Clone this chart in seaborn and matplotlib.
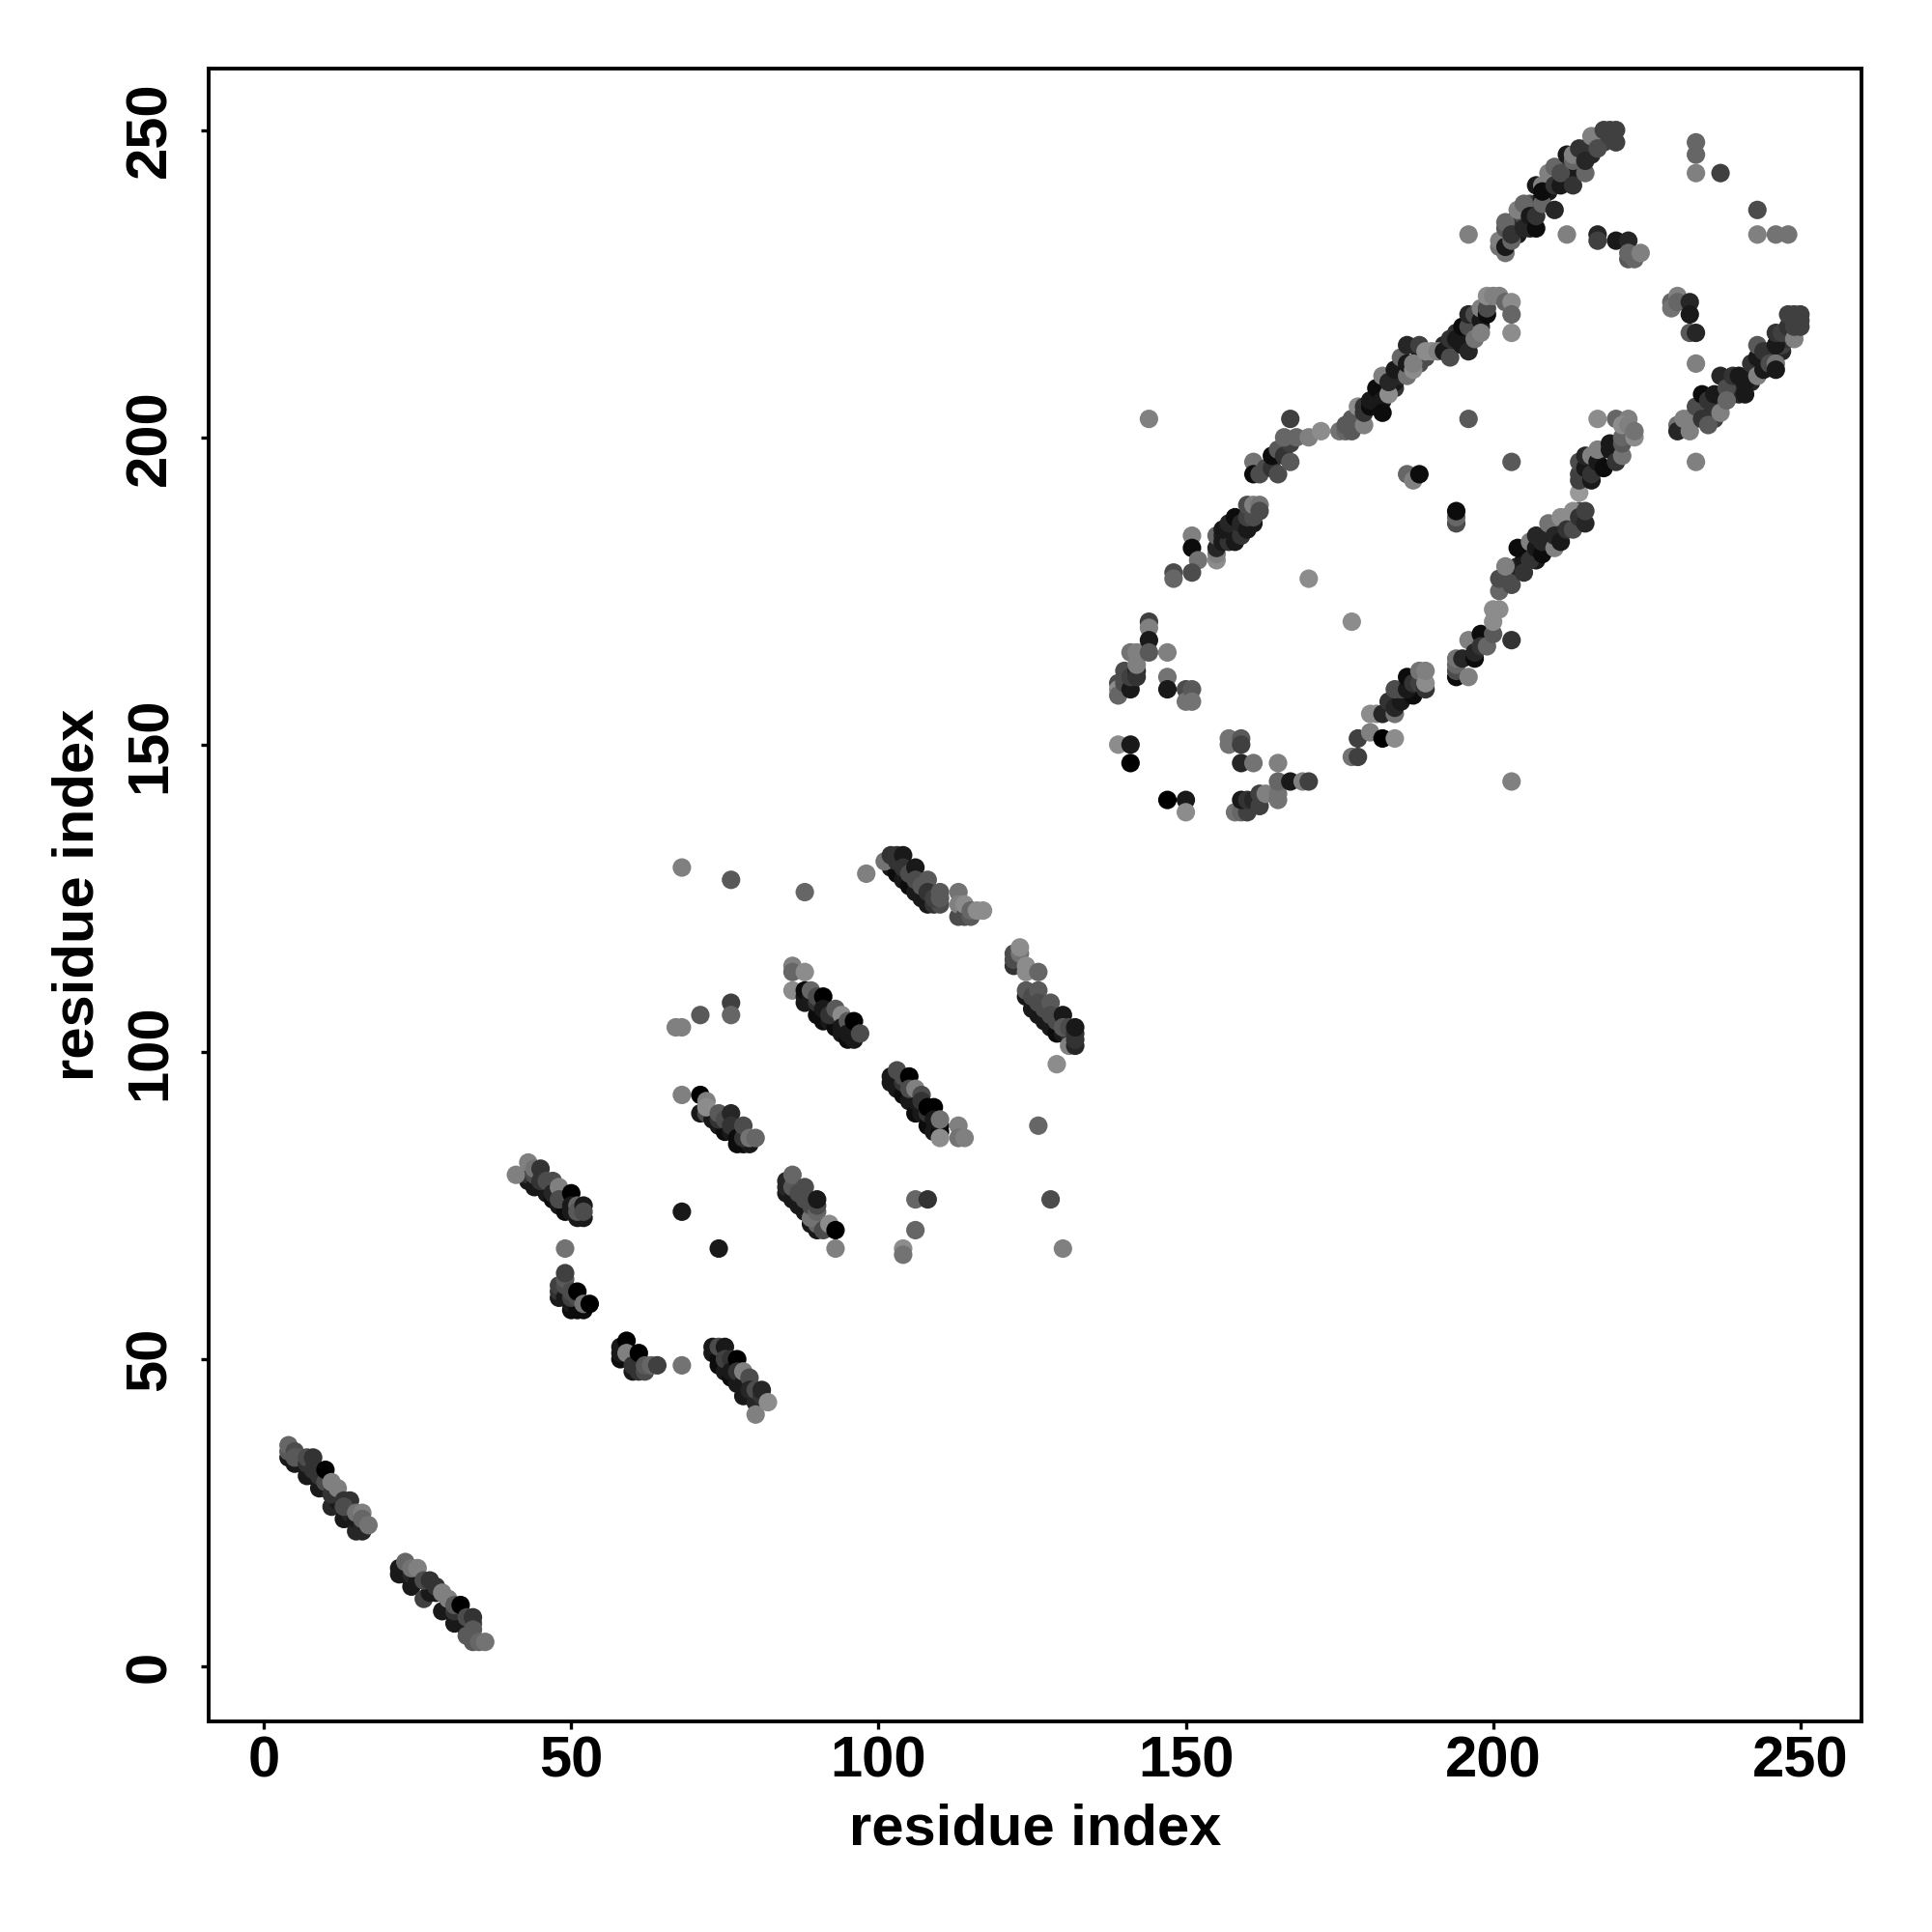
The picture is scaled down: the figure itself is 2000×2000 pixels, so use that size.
import matplotlib
matplotlib.use("Agg")
import matplotlib.pyplot as plt
import pandas as pd
import seaborn as sns

# contacts: (residue x, residue y, grey level 0=black)
strand_a = [(4,34,.1),(4,35,.35),(5,33,.1),(6,33,.1),(7,31,.1),(8,31,.1),(9,29,.1),(10,29,.1),(11,26,.15),(12,27,.1),
            (13,24,.1),(14,24,.1),(15,22,.15),(16,22,.15),(14,25,.15),(15,24,.1),(16,23,.15),
            (4,36,.4),(5,35,.3),(5,34,.35),(6,34,.35),(7,33,.2),(7,34,.3),(8,32,.2),(8,34,.2),(9,31,.2),(10,30,.3),(10,32,0),
            (11,28,.2),(11,30,.5),(12,29,.5),(13,27,.2),(14,27,.2),(13,26,.3),(15,25,.45),(16,25,.5),(16,24,.4),(17,23,.45)]
strand_b = [(22,15,.1),(22,16,.1),(23,15,.1),(24,13,.1),(24,15,.15),(25,14,.1),(26,11,.25),(27,12,.1),(28,12,.1),(29,9,.1),
            (30,10,.1),(31,7,.1),(32,8,.1),(33,6,.1),
            (23,17,.4),(24,16,.45),(25,16,.5),(26,14,.3),(27,14,.2),(28,13,.2),(29,12,.5),(30,11,.5),(31,9,.2),(31,10,.35),(32,10,0),
            (33,8,.3),(33,5,.35),(34,7,.3),(34,8,.2),(34,6,.35),(34,4,.35),(35,4,.4),(36,4,.45)]
strand_c = [(43,79,.1),(43,80,.2),(44,78,.1),(45,78,.1),(46,77,.1),(47,76,.05),(48,75,.1),(49,74,.05),(50,74,.1),(51,73,.1),(52,73,.1),
            (41,80,.5),(43,82,.5),(44,80,.3),(44,81,.45),(45,81,.2),(45,79,.2),(46,79,.3),(47,79,.3),(47,77,.15),(48,78,.5),
            (48,76,.3),(49,76,.3),(50,77,0),(50,75,.1),(51,75,.4),(51,74,.35),(52,75,.1),(52,74,.3)]
strand_d = [(48,60,.1),(48,61,.2),(48,62,.25),(49,60,.1),(50,58,.05),(50,59,.1),(51,58,.05),(52,58,.05),
            (49,62,.3),(49,63,.35),(49,64,.25),(50,60,.25),(50,61,.3),(51,60,.3),(51,61,0),(52,59,.45),(53,59,0)]
strand_e = [(58,50,.05),(58,51,.1),(58,52,.1),(60,48,.1),(61,48,.2),(60,50,.3),(59,53,0),(59,51,.5),(61,50,.1),(60,49,.2),
            (61,51,0),(62,48,.3),(62,49,.35),(63,49,.4),(64,49,.25)]
strand_f = [(73,51,.1),(73,52,.1),(74,50,.05),(74,49,.05),(75,48,.1),(76,47,.05),(77,46,.1),(78,44,.1),(79,44,.1),(80,43,.15),
            (74,52,.3),(75,52,.1),(75,50,.25),(76,50,.2),(76,48,.1),(77,50,0),(77,48,.2),(78,46,.1),(78,48,.5),(79,47,.3),
            (79,45,.15),(80,45,.3),(80,41,.5),(81,44,.2),(81,45,.15),(82,43,.55)]
strand_g = [(71,90,.1),(72,90,.3),(73,89,.1),(74,88,.1),(75,87,.05),(76,87,.1),(77,85,.05),(78,85,.05),(79,85,.1),
            (68,93,.5),(71,93,0),(72,92,.5),(72,91,.55),(74,89,.2),(74,90,.35),(75,89,.3),(76,90,.15),(76,88,.2),(77,87,.2),
            (77,86,.05),(78,86,.2),(78,88,.3),(79,86,.45),(80,86,.4)]
strand_h = [(85,77,.1),(85,78,.15),(85,79,.15),(86,76,.1),(87,75,.1),(88,74,.1),(89,72,.1),(90,71,.1),(90,72,.4),
            (86,78,.35),(86,80,.4),(87,77,.3),(88,76,.3),(88,78,.3),(89,73,.45),(89,75,.3),(90,74,.4),(90,75,.3),(90,76,.1),
            (91,71,.3),(92,72,.55),(93,71,0),(93,68,.5)]
strand_i = [(86,114,.5),(86,113,.4),(88,113,.55),(86,110,.55),(88,108,.1),(88,109,.1),(88,110,.05),(89,109,.1),(90,106,.05),(90,108,.2),
            (91,105,.05),(92,105,.1),(93,104,.05),(94,103,.1),(95,102,.05),(96,102,.1),(89,110,.4),(90,109,.3),(91,109,0),(91,107,.1),
            (92,106,.2),(93,107,.35),(94,106,.55),(94,104,.1),(95,105,.35),(95,103,.1),(96,103,.1),(96,105,0),(97,103,.3)]
strand_j = [(102,95,.1),(102,96,.1),(103,94,.1),(104,93,.05),(105,92,.1),(106,90,.05),(106,92,.1),(107,90,.1),(108,88,.05),(109,87,.1),(110,87,.05),(110,88,.05),
            (103,97,.3),(104,95,.2),(104,96,.3),(105,96,0),(105,94,.3),(106,94,.5),(107,93,.3),(107,92,.2),(108,90,.2),
            (108,91,0),(109,91,0),(109,89,.1),(110,89,.45),(113,88,.5),(110,86,.55),(113,86,.45),(114,86,.5)]
strand_k = [(102,130,.1),(103,129,.05),(104,128,.1),(105,127,.05),(106,126,.1),(107,125,.1),(108,124,.1),(109,124,.2),(110,124,.3),
            (101,131,.45),(102,132,.2),(103,132,.2),(103,131,.2),(104,132,.1),(104,130,.2),(105,129,.3),(106,130,.1),(106,128,.3),
            (107,127,.35),(108,128,.35),(108,126,.2),(109,125,.25),(110,126,.35),(110,125,.35),
            (113,122,.3),(113,126,.45),(113,124,.5),(114,122,.3),(114,124,.55),(115,122,.35),(115,123,.4),(116,123,.55),(117,123,.55)]
strand_l = [(122,114,.2),(122,115,.3),(122,116,.3),(123,116,.45),(123,117,.55),(124,114,.55),(124,113,.55),(126,113,.4),
            (124,109,.1),(125,107,.1),(126,106,.1),(127,105,.1),(128,104,.1),(129,103,.05),(130,103,.1),(131,102,.1),(131,103,.2),
            (124,110,.35),(125,109,.3),(126,110,.35),(126,108,.3),(127,107,.3),(128,108,.35),(128,106,.3),(129,105,.3),(130,106,.1),
            (130,104,.35),(131,104,.3),(131,101,.5),(132,101,.15),(132,102,.2),(132,103,.2),(132,104,.1)]
left_arc = [(139,160,.3),(139,159,.55),(139,158,.4),(140,162,.3),(140,160,.3),(141,159,.1),(141,161,.25),(142,162,.15),(142,161,.2),(141,165,.45),
            (142,165,.5),(143,165,.5),(142,163,.5),(144,170,.25),(144,169,.5),(144,167,.1),(144,165,.35),(147,165,.5),
            (147,161,.45),(147,159,.1),(150,159,.3),(150,157,.45),(151,159,.35),(151,157,.45),(148,178,.3),(148,177,.4),
            (151,184,.5),(151,182,.05),(152,180,.45),(151,178,.3)]
lower_arc = [(139,150,.55),(141,150,.1),(141,147,0),(147,141,0),(150,141,.1),(150,139,.55),(157,151,.45),(157,150,.45),
             (159,151,.35),(159,150,.25),(159,147,.15),(161,147,.45),(165,147,.5),(158,139,.45),(159,139,.4),(160,139,.25),
             (159,141,.1),(160,141,.2),(161,141,.15),(162,140,.25),(162,142,.25),(163,142,.5),(165,141,.45),(165,142,.45),
             (165,144,.4),(167,144,.1),(169,144,.5),(170,144,.25)]
band_a = [(155,180,.55),(155,181,.5),(155,182,.15),(155,184,.4),(156,184,.15),(156,183,.1),(157,183,.2),(158,183,.1),(156,185,.1),(158,185,.1),
          (157,186,.15),(158,187,.05),(159,184,.2),(159,186,.15),(160,185,.1),(161,186,.1),(160,187,.25),(160,189,.3),(161,187,.3),(161,189,.5),(162,189,.45),(162,188,.3)]
band_b = [(161,196,.45),(161,194,.05),(162,194,.3),(163,195,.3),(164,195,.2),(164,197,.05),(165,194,.3),(165,198,.35),(166,197,.2),(167,196,.35),(167,199,.25),
          (166,200,.4),(168,200,.4),(170,200,.5),(172,201,.55),(175,201,.45),(176,201,.4),(177,201,.35),(176,202,.35)]
band_c_under = [(184,208,.2),(184,209,.1),(185,210,.15),(185,211,.15),(188,212,.3),(188,213,.1),(189,213,.3),(192,215,.15),(193,215,.1),
                (194,217,.2),(195,217,.1),(195,216,.2),(196,216,.2),(197,218,.1),(197,219,.2),(198,218,.2)]
band_c = [(177,203,.35),(178,205,.55),(179,202,.5),(179,204,.2),(179,205,.2),(180,205,.05),(180,206,.1),(181,208,.05),(182,206,.1),(182,204,.05),(183,207,.55),
          (182,210,.5),(183,209,.15),(184,211,.1),(185,213,.4),(186,210,.45),(186,212,.1),(186,215,.15),(187,211,.55),(187,212,.5),(188,215,.25),
          (189,214,.55),(190,214,.55),(191,214,.5),(192,214,.1),(193,213,.3),(193,216,.2),(194,216,.1),(195,215,.1),(195,218,.05),(196,214,.15),(196,218,.3),
          (196,220,.15),(197,220,.3),(197,216,.45),(198,219,.1),(198,217,.5),(198,221,.5),(199,220,.05),(199,221,.3),(199,223,.55),(200,223,.5),(201,223,.5),(202,222,.4),(203,222,.55),(203,220,.4),(203,217,.55)]
band_d = [(177,148,.45),(178,148,.25),(178,151,.25),(180,152,.5),(182,151,0),(184,151,.55),(180,155,.55),(181,155,.55),(182,155,.15),(184,155,.45),
          (183,157,.2),(184,156,.15),(185,157,.1),(186,158,.1),(187,158,.05),(184,159,.3),(185,159,.3),(186,159,.1),(186,161,.05),(187,160,.2),
          (188,160,.25),(189,159,.2),(188,162,.45),(189,160,.55),(189,162,.5)]
band_e = [(194,161,.05),(194,162,.3),(194,163,.4),(194,164,.45),(195,164,.15),(196,161,.5),(196,167,.5),(197,164,.05),(197,165,.15),(198,168,.05),(198,166,.2),(199,166,.4),
          (200,168,.35),(200,170,.55),(200,172,.55),(201,172,.55),(203,167,.2)]
band_f_under = [(202,177,.4),(203,178,.3),(204,179,.15),(205,180,.1),(206,181,.2),(207,180,.1),(209,182,.1),(209,184,.2),(210,183,.1),
                (211,185,.2),(212,186,.1),(213,186,.2),(214,186,.15),(214,188,.3)]
band_f = [(201,175,.4),(201,177,.3),(202,179,.5),(203,176,.3),(204,182,.05),(205,178,.2),(206,180,.2),(206,183,.5),(207,182,.1),(207,184,.15),(208,181,.05),(208,183,.15),
          (209,186,.45),(210,182,.5),(210,184,.15),(211,183,.1),(211,187,.55),(212,187,.55),(212,185,.2),(213,185,.3),(213,188,.55),(214,187,.2),(215,186,.15),(215,188,.25)]
band_g = [(214,191,.6),(214,193,.25),(214,194,.25),(214,196,.3),(215,195,.1),(215,197,.15),(216,193,.1),(216,194,.2),(216,197,.5),(217,195,.2),(217,196,.1),(217,198,.5),
          (218,195,.05),(219,198,.1),(219,199,.1),(220,196,.2),(221,197,.45),(221,199,.35),(221,200,.4),(217,203,.55),(220,203,.4),(222,203,.5),(221,202,.55),(222,202,.5),(223,200,.55),(223,201,.45)]
band_h_under = [(232,203,.1),(233,204,.3),(234,205,.2),(235,204,.15),(236,203,.25),(236,205,.2),(237,206,.2),(239,207,.1),(239,208,.1),(240,208,.1),
                (240,207,.15),(242,209,.15),(242,210,.1),(243,211,.2),(244,212,.2),(245,213,.1),(245,214,.2),(246,214,.2),(247,214,.15),(247,215,.25),
                (248,216,.2),(248,217,.25),(249,217,.25),(249,219,.25),(249,220,.25)]
band_h = [(230,202,.45),(230,201,.15),(231,203,.5),(232,201,.5),(233,203,.5),(233,205,.3),(234,207,.05),(234,203,.2),(235,202,.35),(235,206,.2),(236,207,.1),(237,204,.5),
          (237,210,.15),(238,208,.3),(238,206,.4),(239,210,.2),(240,210,.1),(241,209,.1),(241,207,.1),(242,212,.2),(243,210,.5),(243,213,.1),(243,215,.35),(244,211,.1),(244,214,.2),
          (245,212,.3),(246,212,.45),(246,211,.1),(246,215,.1),(246,217,.2),(247,217,.25),(248,218,.2),(248,220,.25),(249,216,.5),(249,218,.25),(250,220,.25),(250,219,.25),(250,218,.25)]
band_i_under = [(203,234,.2),(203,235,.3),(204,233,.1),(204,235,.2),(205,236,.3),(206,234,.15),(206,238,.35),(207,238,.25),(208,239,.1),(209,240,.1),
                (209,241,.2),(210,242,.15),(211,242,.1),(212,243,.1),(212,244,.2),(213,243,.1),(214,244,.1),(214,245,.2),(215,246,.15),(215,247,.25),
                (216,246,.15),(216,247,.2),(217,248,.2),(217,249,.3),(218,248,.25),(218,249,.3),(219,250,.25)]
band_i = [(201,231,.45),(201,232,.5),(202,230,.45),(202,231,.1),(202,234,.35),(202,235,.4),(203,232,.4),(203,233,.2),(204,237,.5),(205,234,.15),(205,238,.4),(206,236,.1),
          (207,234,.05),(207,236,.2),(207,241,.1),(208,238,.4),(208,241,.5),(208,240,.05),(209,243,.5),(210,237,.15),(210,244,.4),(210,241,.2),(211,241,.1),(211,243,.3),(212,246,.1),
          (213,241,.2),(213,245,.4),(213,246,.5),(214,247,.2),(215,243,.4),(215,245,.15),(216,249,.5),(217,247,.3),(218,250,.25),(219,249,.25),(220,250,.25),(220,248,.25)]
upper_right = [(217,233,.15),(217,232,.25),(220,232,.1),(222,232,.15),(222,229,.35),(223,229,.4),(222,230,.4),(224,230,.5),(229,222,.4),(229,221,.45),
               (230,223,.5),(230,222,.4),(232,222,.15),(232,220,.1),(232,217,.35),(233,217,.15)]
isolated = [(68,130,.5),(76,128,.35),(88,126,.4),(98,129,.5),(76,108,.25),(76,106,.4),(71,106,.35),(67,104,.5),(68,104,.5),
            (49,68,.45),(68,74,.1),(74,68,.1),(68,49,.45),(106,76,.4),(108,76,.2),(106,71,.4),(104,68,.55),(104,67,.45),
            (128,76,.3),(130,68,.5),(126,88,.4),(129,98,.55),(144,203,.5),(167,203,.25),(170,177,.55),(177,170,.55),
            (186,194,.4),(187,193,.5),(188,194,.05),(194,186,.3),(194,187,.4),(194,188,.05),(196,203,.35),(203,196,.35),
            (203,144,.5),(196,233,.5),(212,233,.5),(233,248,.4),(233,246,.4),(233,243,.5),(237,243,.25),
            (243,237,.3),(243,233,.5),(246,233,.45),(248,233,.45),(233,212,.5),(233,196,.5)]

x_ticks = [0, 50, 100, 150, 200, 250]
y_ticks = [0, 50, 100, 150, 200, 250]

rows = (strand_a + strand_b + strand_c + strand_d + strand_e + strand_f + strand_g + strand_h + strand_i + strand_j
        + strand_k + strand_l + left_arc + lower_arc + band_a + band_b + band_c_under + band_c + band_d + band_e
        + band_f_under + band_f + band_g + band_h_under + band_h + band_i_under + band_i + upper_right + isolated)
data = pd.DataFrame(rows, columns=["x", "y", "grey"])

sns.set_theme(style="ticks")
plt.rcParams["font.family"] = ["Liberation Sans", "DejaVu Sans"]
plt.rcParams["font.weight"] = "bold"

fig = plt.figure(figsize=(20, 20), dpi=100)
ax = fig.add_axes([0.108, 0.1088, 0.8557, 0.8557])
sns.scatterplot(data=data, x="x", y="y", hue="grey", palette="gray", hue_norm=(0, 1),
                s=190, linewidth=0, legend=False, ax=ax)

ax.set_xlim(-9, 260)
ax.set_ylim(-9, 260)
ax.set_xticks(x_ticks)
ax.set_yticks(y_ticks)
ax.tick_params(axis="both", length=6, width=2.4, color="black", labelsize=43, labelcolor="black")
ax.tick_params(axis="x", pad=4)
ax.tick_params(axis="y", pad=17.5)
for lab in ax.get_yticklabels():
    lab.set_rotation(90)
    lab.set_va("center")
for side in ax.spines.values():
    side.set_linewidth(2.8)
    side.set_color("black")
    side.set_visible(True)
ax.set_xlabel("residue index", fontsize=43, fontweight="bold", color="black", labelpad=11)
ax.set_ylabel("residue index", fontsize=43, fontweight="bold", color="black", labelpad=14)

fig.savefig("out.png", dpi=100, facecolor="white")
